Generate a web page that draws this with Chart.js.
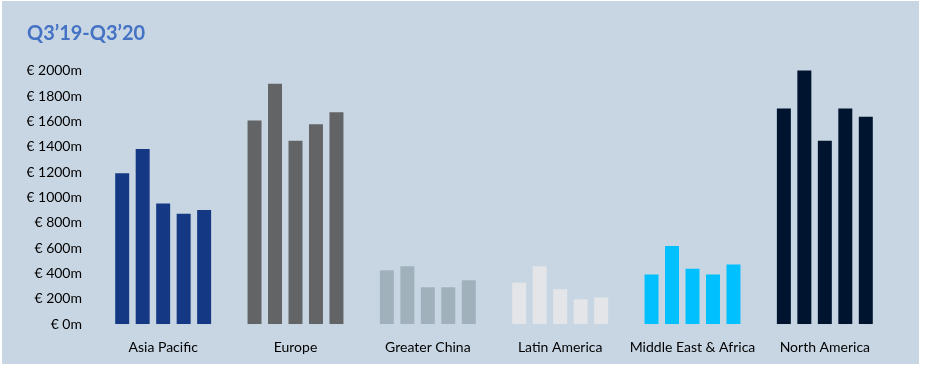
<!DOCTYPE html>
<html lang="en">
<head>
    <meta charset="UTF-8">
    <title>Q3'19-Q3'20</title>
    <script src="https://cdn.jsdelivr.net/npm/chart.js"></script>
    <style>
        body {
            margin: 0;
            background-color: #ffffff;
        }
        .panel {
            position: absolute;
            left: 2px;
            top: 1px;
            width: 917px;
            height: 363px;
            background-color: #c8d6e3;
        }
    </style>
</head>
<body>
    <div class="panel">
        <canvas id="regionChart" width="917" height="363"></canvas>
    </div>
    <script>
        const regions = ['Asia Pacific', 'Europe', 'Greater China', 'Latin America', 'Middle East & Africa', 'North America'];
        const quarters = ['Q3\u201919', 'Q4\u201919', 'Q1\u201920', 'Q2\u201920', 'Q3\u201920'];

        // one value per region, in the order of regions
        const q3_19 = [1200, 1615, 435, 335, 400, 1710];
        const q4_19 = [1390, 1905, 465, 465, 625, 2010];
        const q1_20 = [960, 1455, 300, 285, 445, 1455];
        const q2_20 = [880, 1585, 300, 205, 400, 1710];
        const q3_20 = [910, 1680, 355, 220, 480, 1645];

        const yTicks = [0, 200, 400, 600, 800, 1000, 1200, 1400, 1600, 1800, 2000];

        const regionColors = ['#143883', '#636466', '#a0b1bc', '#e3e5e8', '#00c0ff', '#00142f'];

        const series = [q3_19, q4_19, q1_20, q2_20, q3_20];

        new Chart(document.getElementById('regionChart').getContext('2d'), {
            type: 'bar',
            data: {
                labels: regions,
                datasets: series.map((values, i) => ({
                    label: quarters[i],
                    data: values,
                    backgroundColor: regionColors,
                    borderColor: 'rgba(200, 214, 227, 0.35)',
                    borderWidth: 1,
                    categoryPercentage: 0.774,
                    barPercentage: 0.78
                }))
            },
            options: {
                responsive: false,
                animation: false,
                layout: {
                    padding: { left: 25, right: 28, top: 8, bottom: 0 }
                },
                plugins: {
                    legend: { display: false },
                    tooltip: { enabled: false },
                    title: {
                        display: true,
                        text: 'Q3\u201919-Q3\u201920',
                        align: 'start',
                        color: '#4472c4',
                        font: { family: 'Lato', size: 20, weight: 'bold' },
                        padding: { top: 13, bottom: 12 }
                    }
                },
                scales: {
                    x: {
                        grid: { display: false, drawTicks: false },
                        border: { display: false },
                        afterFit: (scale) => { scale.height = 39.7; },
                        ticks: {
                            color: '#000000',
                            font: { family: 'Lato', size: 14 },
                            padding: 15,
                            maxRotation: 0
                        }
                    },
                    y: {
                        min: 0,
                        max: 2100,
                        grid: { display: false, drawTicks: false },
                        border: { display: false },
                        afterFit: (scale) => { scale.width = 70; },
                        afterBuildTicks: (scale) => {
                            scale.ticks = yTicks.map(v => ({ value: v }));
                        },
                        ticks: {
                            color: '#000000',
                            font: { family: 'Lato', size: 14 },
                            padding: 15,
                            callback: (value) => '\u20ac ' + value + 'm'
                        }
                    }
                }
            }
        });
    </script>
</body>
</html>
